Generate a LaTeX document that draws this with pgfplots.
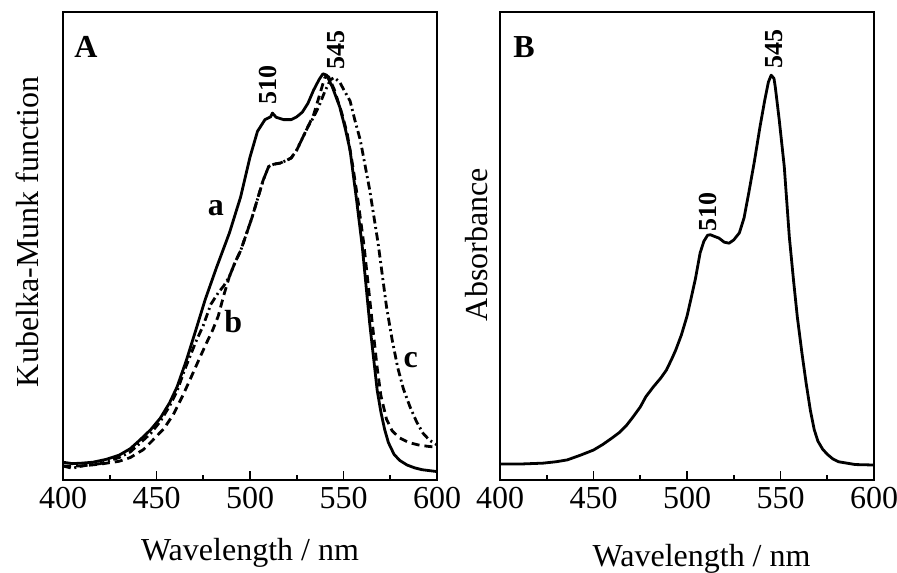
\documentclass[border=0pt]{standalone}
\usepackage{pgfplots}
\pgfplotsset{compat=1.18}
\usepackage{fontspec}
\setmainfont{Liberation Serif}

\begin{document}
\begin{tikzpicture}
\useasboundingbox (0,0) rectangle (448.5pt,286pt);
\pgfplotsset{
  specax/.style={
    scale only axis, width=187pt, height=234pt,
    xmin=400, xmax=600, ymin=0, ymax=100,
    xtick={400,450,...,600}, minor xtick={425,475,525,575},
    ytick=\empty, tick align=inside, xtick pos=bottom,
    major tick length=4.5pt, minor tick length=2.5pt,
    axis line style={line width=1pt},
    every tick/.style={black, line width=0.8pt},
    tick label style={font=\fontsize{16}{19}\selectfont},
    /pgf/number format/assume math mode=true,
    label style={font=\fontsize{16}{19}\selectfont},
    xlabel={Wavelength / nm},
  },
  spec/.style={black, line width=1.4pt, no markers, line join=round},
}
\tikzset{
  pk/.style={font=\bfseries\fontsize{13}{15}\selectfont, rotate=90},
  lab/.style={font=\bfseries\fontsize{16}{19}\selectfont},
}
% panel A
\begin{axis}[specax, at={(31.5pt,46pt)}, anchor=south west,
  ylabel={Kubelka-Munk function},
  x label style={at={(axis description cs:0.5,-0.171)}, anchor=base},
  y label style={at={(axis description cs:-0.094,0.53)}, anchor=center}]
% a
\addplot[spec] coordinates {(400,3.8) (405,3.5) (410,3.6) (416,3.8) (423,4.4) (430,5.3)
  (436,6.7) (441,8.5) (447,10.8) (452,13.2) (457,16.5) (461,19.9) (466,25.6) (471,32)
  (476,38.5) (482,45.3) (489,52.8) (495,60.5) (500,69) (504,74.5) (508,77) (511,77.6)
  (512,78.4) (514,77.5) (518,77) (522,77) (525,77.6) (528,78.6) (531,80.5) (534,83.3)
  (537,85.6) (539,86.8) (541,86.5) (544,84) (548,79.7) (551,75) (553.5,70.5) (557,59.8)
  (560,50) (564,33.5) (568,19.2) (570,14.5) (572,10.8) (574,8) (577,5.5) (580,4.2)
  (584,3.2) (588,2.6) (592,2.2) (596,2) (600,1.8)};
% b
\addplot[spec, dash pattern=on 4pt off 2.5pt] coordinates {(400,3.0) (410,3.0) (420,3.4)
  (430,4.0) (436,4.8) (443,6.5) (448,8.5) (454,11) (459,14) (464,18) (468,21.5) (473,26)
  (477,29.5) (480,32) (483,35) (486,39.5) (489,43.5) (492,46.5) (495,49) (498,52.5)
  (501,56) (504,60) (507,64) (510,67) (513,67.5) (516,67.7) (519,68.2) (522,68.8)
  (525,70.5) (528,73) (531,75.5) (534,78) (537,82) (540,86) (542,86.2) (545,83.5)
  (549,78.5) (552,74) (555,67) (558,59) (561,50) (565,35) (568,24) (570,18) (573,13)
  (576,10.5) (580,9) (585,8) (590,7.5) (595,7.2) (600,7)};
% c
\addplot[spec, dash pattern=on 4pt off 1.8pt on 1pt off 1.8pt] coordinates {(400,3.0)
  (405,2.5) (410,3.0) (420,3.5) (430,4.8) (436,6) (441,7.8) (447,10) (452,12.5)
  (457,15.8) (461,19) (465,23.5) (468,26.5) (471,29.5) (475,33) (479,37.5) (483,40)
  (486,41.5) (489,43.5) (492,46.5) (495,49) (498,52.5) (501,56) (504,60) (507,64)
  (510,67) (513,67.5) (516,67.7) (519,68.2) (522,68.8) (525,70.5) (528,73) (531,75.5)
  (534,77.5) (537,80) (540,83) (543,85.5) (545,86) (548,85) (550,83.5) (553.5,81)
  (556,77) (559,72.6) (564,62) (568.5,50.6) (573,37) (576,30) (579,24) (582,19.5)
  (585.6,15.6) (589,12.5) (592.5,10) (596,8.5) (600,7.5)};
\node[lab] at (axis description cs:0.061,0.925) {A};
\node[pk] at (axis cs:509.6,84.4) {510};
\node[pk] at (axis cs:546,91.9) {545};
\node[lab] at (axis cs:481.8,58.1) {a};
\node[lab] at (axis cs:491,33.8) {b};
\node[lab] at (axis cs:586,25.6) {c};
\end{axis}
% panel B
\begin{axis}[specax, at={(250pt,46pt)}, anchor=south west,
  ylabel={Absorbance},
  x label style={at={(axis description cs:0.539,-0.184)}, anchor=base},
  y label style={at={(axis description cs:-0.064,0.503)}, anchor=center}]
\addplot[spec] coordinates {(400,3.4) (410,3.4) (423,3.6) (430,3.9) (436,4.3) (443,5.3)
  (450,6.4) (455,7.6) (460,9) (464,10.2) (467.5,11.6) (471,13.4) (475,15.6) (478,17.8)
  (482,19.9) (486,21.8) (489,23.5) (492,26) (494,27.8) (497,31) (500,35) (502,38.5)
  (504.5,43) (507,48.5) (509,51) (511,52.3) (512.5,52.4) (515,52) (517,51.7) (520,50.8)
  (522.5,50.6) (525,51.3) (528,52.8) (530.5,56) (533,61.3) (536,68) (539,75.4)
  (541.5,81) (543.5,85) (545,86.5) (546.5,85.8) (547.2,84) (549.3,77) (552,67)
  (554.7,52) (557,42.5) (559,34.8) (561.5,27) (563.7,20.7) (566,14.8) (568,10.8)
  (570,8.3) (572.5,6.6) (575,5.5) (578,4.5) (581,3.9) (590,3.3) (600,3.2)};
\node[lab] at (axis description cs:0.064,0.925) {B};
\node[pk] at (axis cs:511,57.3) {510};
\node[pk] at (axis cs:546.7,92.1) {545};
\end{axis}
\end{tikzpicture}
\end{document}
